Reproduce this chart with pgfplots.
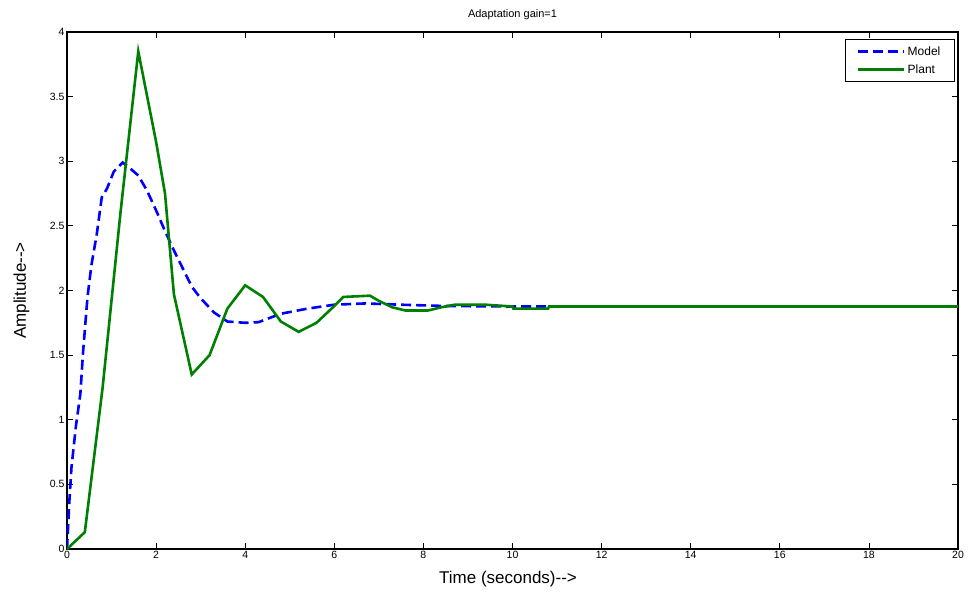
\documentclass[border=0pt]{standalone}
\usepackage{fontspec}
\setmainfont{Liberation Sans}
\usepackage{pgfplots}
\pgfplotsset{compat=1.18}
\definecolor{mblue}{RGB}{0,0,255}
\definecolor{mgreen}{RGB}{0,128,0}
\begin{document}
\begin{tikzpicture}
\useasboundingbox (-67pt,-48pt) rectangle (901pt,549pt);
\begin{axis}[
  at={(0pt,0pt)}, anchor=south west,
  scale only axis, width=891pt, height=517pt,
  xmin=0, xmax=20, ymin=0, ymax=4,
  xtick={0,2,...,20}, ytick={0,0.5,...,4},
  tick align=inside, major tick length=6pt,
  tick style={black, line width=0.8pt},
  axis line style={black, line width=1.2pt},
  /pgf/number format/assume math mode=true,
  ticklabel style={font=\fontsize{10.5}{12}\selectfont},
  xticklabel style={yshift=1pt},
  yticklabel style={xshift=1pt},
  title={Adaptation gain=1},
  title style={font=\fontsize{11}{13}\selectfont, at={(axis description cs:0.5,1.022)}, anchor=center},
  xlabel={Time (seconds)-{}->},
  xlabel style={font=\fontsize{17}{20}\selectfont, at={(axis description cs:0.495,-0.058)}, anchor=center},
  ylabel={Amplitude-{}->},
  ylabel style={font=\fontsize{17}{20}\selectfont, at={(axis description cs:-0.051,0.5)}, anchor=center},
  legend style={at={(rel axis cs:0.9965,0.9865)}, anchor=north east,
    draw=black, line width=1pt, font=\fontsize{12}{14}\selectfont,
    inner xsep=12pt, inner ysep=5pt, row sep=4pt},
  legend cell align=left,
  legend image code/.code={\draw[#1] (0pt,0pt) -- (46pt,0pt);},
]
\addplot[mblue, line width=2.6pt, dash pattern=on 10pt off 5pt] coordinates {
(0,0) (0.05,0.35) (0.1,0.63) (0.2,0.95) (0.3,1.2) (0.36,1.52) (0.46,1.95)
(0.55,2.2) (0.67,2.44) (0.78,2.72) (0.9,2.79) (1.05,2.92) (1.25,2.99)
(1.4,2.95) (1.6,2.89) (1.8,2.77) (2.0,2.62) (2.2,2.46) (2.4,2.31) (2.6,2.17)
(2.8,2.03) (3.0,1.94) (3.3,1.83) (3.6,1.76) (4.0,1.75) (4.3,1.755) (4.8,1.82)
(5.4,1.86) (6.0,1.89) (6.7,1.90) (7.5,1.89) (8.5,1.88) (10,1.876) (20,1.876)
};
\addlegendentry{Model}
\addplot[mgreen, line width=2.6pt] coordinates {
(0,0) (0.4,0.13) (0.8,1.25) (1.2,2.6) (1.6,3.85) (2.0,3.15) (2.2,2.75)
(2.4,1.97) (2.8,1.35) (3.2,1.5) (3.6,1.86) (4.0,2.04) (4.4,1.95) (4.8,1.76)
(5.2,1.68) (5.6,1.75) (6.0,1.88) (6.2,1.95) (6.8,1.96) (7.0,1.92) (7.3,1.87)
(7.6,1.845) (8.1,1.845) (8.4,1.87) (8.7,1.89) (9.4,1.89) (10.0,1.876)
(10.02,1.86) (10.8,1.86) (10.82,1.876) (20,1.876)
};
\addlegendentry{Plant}
\end{axis}
\end{tikzpicture}
\end{document}
